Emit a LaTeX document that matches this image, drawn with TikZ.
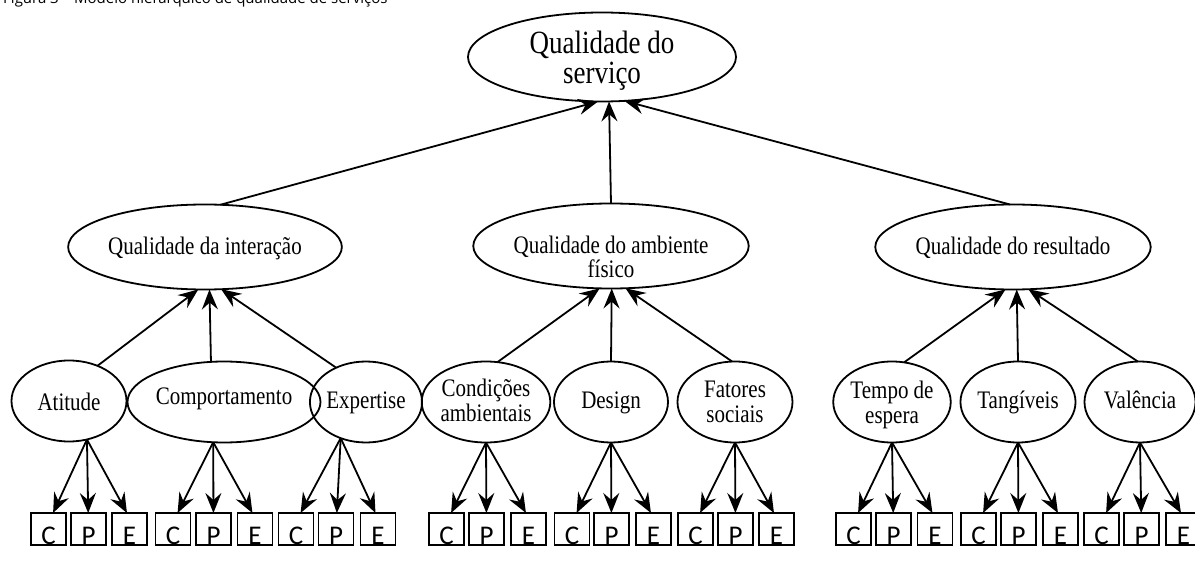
\documentclass[tikz,border=0pt]{standalone}
\usepackage{fontspec}
\usepackage{graphicx}
\setmainfont{Liberation Serif}
\newfontfamily\capfont{Open Sans}
\newfontfamily\boxfont{Carlito}
\usetikzlibrary{shapes.geometric,arrows.meta}
% ellipse labels are set a little taller than wide, as in the source figure
\newcommand{\tallcell}[2][0pt]{\raisebox{-#1}[\height][\depth]{\scalebox{1}[1.2]{\begin{tabular}{@{}c@{}}#2\end{tabular}}}}

\begin{document}
\begin{tikzpicture}
  [x=1pt,y=-1pt,
   >={Stealth[length=20pt,width=16pt,inset=7pt]},
   every path/.style={line width=1.8pt},
   construct/.style={ellipse,draw=black,line width=1.8pt,inner sep=0,outer sep=0,
                     font=\fontsize{27}{24}\selectfont,
                     minimum width=268pt,minimum height=89pt},
   dimension/.style={ellipse,draw=black,line width=1.8pt,inner sep=0,outer sep=0,
                     font=\fontsize{21}{19}\selectfont,
                     minimum width=214pt,minimum height=85pt},
   factor/.style={ellipse,draw=black,line width=1.8pt,inner sep=0,outer sep=0,
                  font=\fontsize{21}{21}\selectfont,
                  minimum width=115pt,minimum height=81pt},
   indicator/.style={rectangle,draw=black,line width=1.4pt,inner sep=0,outer sep=0,
                     font=\boxfont\fontsize{27}{27}\selectfont,
                     text height=31pt,text depth=1pt,
                     minimum width=35pt,minimum height=32pt}]
  \useasboundingbox (0,0) rectangle (1195,572);
  \node[anchor=base west,font=\capfont\fontsize{15}{17}\selectfont] (caption) at (-1,4)
    {Figura 3 – Modelo hierárquico de qualidade de serviços};
  % levels
  \node[construct] (servico) at (602,57) {\tallcell[5pt]{Qualidade do\\serviço}};
  \node[dimension] (interacao) at (205,247) {\tallcell[2pt]{Qualidade da interação}};
  \node[dimension] (ambiente) at (611,246) {\tallcell[14pt]{Qualidade do ambiente\\físico}};
  \node[dimension] (resultado) at (1013,247) {\tallcell[2pt]{Qualidade do resultado}};
  \node[factor] (atitude) at (69,401) {\tallcell[4pt]{Atitude}};
  \node[factor,minimum width=162pt] (comportamento) at (224,402) {\tallcell[-3pt]{Comportamento}};
  \node[factor,minimum width=106pt] (expertise) at (366,402) {\tallcell[1pt]{Expertise}};
  \node[factor,minimum width=114pt] (condicoes) at (486,402) {\tallcell[2pt]{Condições\\ambientais}};
  \node[factor,minimum width=114pt] (design) at (611,402) {\tallcell[1pt]{Design}};
  \node[factor] (fatores) at (735,402) {\tallcell[3pt]{Fatores\\sociais}};
  \node[factor] (tempo) at (892,402) {\tallcell[4pt]{Tempo de\\espera}};
  \node[factor] (tangiveis) at (1018,402) {\tallcell[1pt]{Tangíveis}};
  \node[factor,minimum width=111pt] (valencia) at (1140,402) {\tallcell[1pt]{Valência}};
  % C P E boxes
  \node[indicator] (atitudeC) at (48.5,529) {C};
  \node[indicator] (atitudeP) at (88.5,529) {P};
  \node[indicator] (atitudeE) at (129.5,529) {E};
  \node[indicator] (comportamentoC) at (173,529) {C};
  \node[indicator] (comportamentoP) at (213.5,529) {P};
  \node[indicator] (comportamentoE) at (255,529) {E};
  \node[indicator] (expertiseC) at (296,529) {C};
  \node[indicator] (expertiseP) at (336,529) {P};
  \node[indicator] (expertiseE) at (378,529) {E};
  \node[indicator] (condicoesC) at (446.5,529) {C};
  \node[indicator] (condicoesP) at (486.5,529) {P};
  \node[indicator] (condicoesE) at (528.5,529) {E};
  \node[indicator] (designC) at (572,529) {C};
  \node[indicator] (designP) at (611.5,529) {P};
  \node[indicator] (designE) at (653.5,529) {E};
  \node[indicator] (fatoresC) at (695.5,529) {C};
  \node[indicator] (fatoresP) at (735.5,529) {P};
  \node[indicator] (fatoresE) at (776.5,529) {E};
  \node[indicator] (tempoC) at (853.5,529) {C};
  \node[indicator] (tempoP) at (893.5,529) {P};
  \node[indicator] (tempoE) at (935,529) {E};
  \node[indicator] (tangiveisC) at (978.5,529) {C};
  \node[indicator] (tangiveisP) at (1018.5,529) {P};
  \node[indicator] (tangiveisE) at (1060.5,529) {E};
  \node[indicator] (valenciaC) at (1101.5,529) {C};
  \node[indicator] (valenciaP) at (1141.5,529) {P};
  \node[indicator] (valenciaE) at (1183.5,529) {E};
  % dimensions to service quality
  \draw[->] (interacao.70) to (servico.265);
  \draw[->] (ambiente.90) to (servico.279);
  \draw[->] (resultado.94) to (servico.297);
  % factors to dimensions
  \draw[->] (atitude.51) to (interacao.261);
  \draw[->] (comportamento.108) to (interacao.276);
  \draw[->] (expertise.131) to (interacao.291);
  \draw[->] (condicoes.74) to (ambiente.255);
  \draw[->] (design.90) to (ambiente.271);
  \draw[->] (fatores.94) to (ambiente.289);
  \draw[->] (tempo.73) to (resultado.260);
  \draw[->] (tangiveis.90) to (resultado.275);
  \draw[->] (valencia.93) to (resultado.290);
  % factors to indicators
  \draw[->] (atitude.295) to (atitudeC.74);
  \draw[->] (atitude.295) to (atitudeP);
  \draw[->] (atitude.295) to (atitudeE.99);
  \draw[->] (comportamento.255) to (comportamentoC.74);
  \draw[->] (comportamento.255) to (comportamentoP);
  \draw[->] (comportamento.255) to (comportamentoE.99);
  \draw[->] (expertise.235) to (expertiseC.74);
  \draw[->] (expertise.235) to (expertiseP);
  \draw[->] (expertise.235) to (expertiseE.99);
  \draw[->] (condicoes.270) to (condicoesC.74);
  \draw[->] (condicoes.270) to (condicoesP);
  \draw[->] (condicoes.270) to (condicoesE.99);
  \draw[->] (design.270) to (designC.74);
  \draw[->] (design.270) to (designP);
  \draw[->] (design.270) to (designE.99);
  \draw[->] (fatores.270) to (fatoresC.74);
  \draw[->] (fatores.270) to (fatoresP);
  \draw[->] (fatores.270) to (fatoresE.99);
  \draw[->] (tempo.270) to (tempoC.74);
  \draw[->] (tempo.270) to (tempoP);
  \draw[->] (tempo.270) to (tempoE.99);
  \draw[->] (tangiveis.270) to (tangiveisC.74);
  \draw[->] (tangiveis.270) to (tangiveisP);
  \draw[->] (tangiveis.270) to (tangiveisE.99);
  \draw[->] (valencia.270) to (valenciaC.74);
  \draw[->] (valencia.270) to (valenciaP);
  \draw[->] (valencia.270) to (valenciaE.99);
\end{tikzpicture}
\end{document}
